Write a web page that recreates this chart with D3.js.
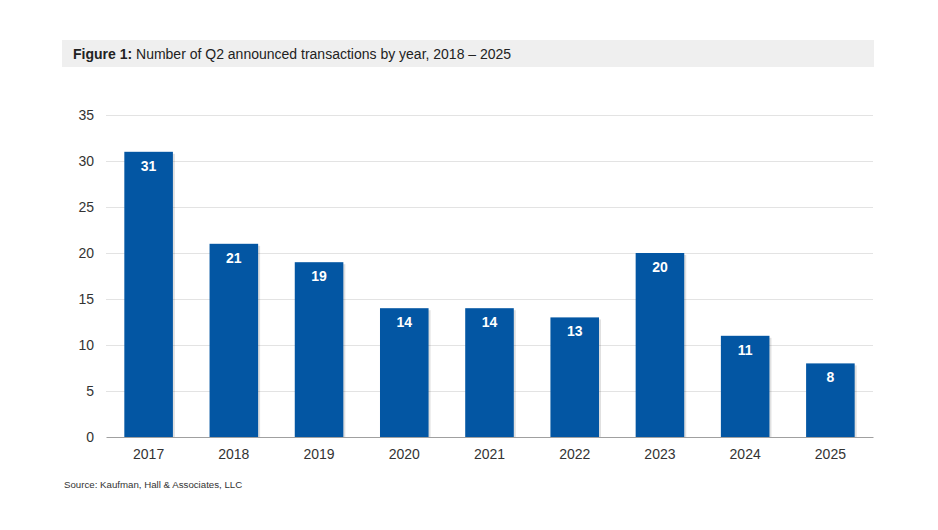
<!DOCTYPE html>
<html><head><meta charset="utf-8">
<script src="https://cdn.jsdelivr.net/npm/d3@7"></script>
<style>body{margin:0;background:#fff;font-family:"Liberation Sans",Arial,sans-serif}</style>
</head><body><svg id="c" width="938" height="530"></svg>
<script>
const years = ["2017","2018","2019","2020","2021","2022","2023","2024","2025"];
const counts = [31,21,19,14,14,13,20,11,8];
const yTicks = [0,5,10,15,20,25,30,35];

(function(){
const svg = d3.select("#c");
const pL = 106, pR = 873, pT = 115, pB = 437;
const x = d3.scaleBand().domain(years).range([pL,pR]).paddingInner(0.43).paddingOuter(0.215);
const y = d3.scaleLinear().domain([0,35]).range([pB,pT]);

// title
svg.append("rect").attr("x",62).attr("y",40).attr("width",812).attr("height",27).attr("fill","#efefef");
const t = svg.append("text").attr("x",73).attr("y",58.5).attr("font-size",14).attr("fill","#222");
t.append("tspan").attr("font-weight","bold").text("Figure 1:");
t.append("tspan").text(" Number of Q2 announced transactions by year, 2018 \u2013 2025");

// grid
svg.append("g").selectAll("line").data(yTicks.filter(d=>d>0)).join("line")
  .attr("x1",pL).attr("x2",pR).attr("y1",d=>y(d)+0.5).attr("y2",d=>y(d)+0.5)
  .attr("stroke","#e3e3e3");

// y axis labels
const ya = svg.append("g").attr("transform",`translate(${pL},0)`)
  .call(d3.axisLeft(y).tickValues(yTicks).tickSize(0).tickPadding(12));
ya.select(".domain").remove();
ya.selectAll("text").attr("font-size",14).attr("fill","#333").attr("font-family","Liberation Sans, Arial, sans-serif");

// shadows
svg.append("g").selectAll("rect").data(counts).join("rect")
  .attr("x",(d,i)=>x(years[i])+2).attr("y",d=>y(d)+2)
  .attr("width",x.bandwidth()).attr("height",d=>pB-y(d)-2)
  .attr("fill","#000").attr("opacity",0.12);
// bars
svg.append("g").selectAll("rect").data(counts).join("rect")
  .attr("x",(d,i)=>x(years[i])).attr("y",d=>y(d))
  .attr("width",x.bandwidth()).attr("height",d=>pB-y(d))
  .attr("fill","#0356a3");
// labels
svg.append("g").selectAll("text").data(counts).join("text")
  .attr("x",(d,i)=>x(years[i])+x.bandwidth()/2).attr("y",d=>y(d)+19)
  .attr("text-anchor","middle").attr("font-size",14).attr("font-weight","bold")
  .attr("fill","#fff").text(d=>d);

// x axis
const xa = svg.append("g").attr("transform",`translate(0,${pB})`)
  .call(d3.axisBottom(x).tickSize(0).tickPadding(12));
xa.select(".domain").attr("stroke","#a0a0a0");
xa.selectAll("text").attr("font-size",14).attr("fill","#333").attr("font-family","Liberation Sans, Arial, sans-serif");

svg.append("text").attr("x",64).attr("y",488).attr("font-size",9.7).attr("fill","#333")
  .text("Source: Kaufman, Hall & Associates, LLC");
})();
</script></body></html>
